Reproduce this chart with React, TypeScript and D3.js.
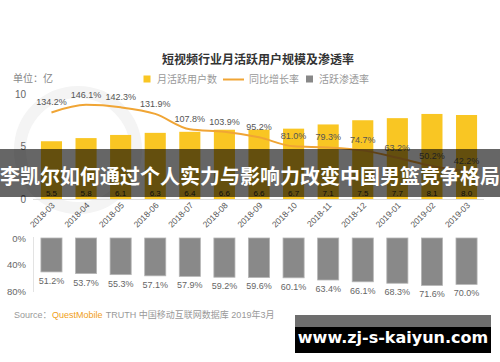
import React, { useEffect, useRef } from 'react';
import * as d3 from 'd3';

const months = ['2018-03', '2018-04', '2018-05', '2018-06', '2018-07', '2018-08', '2018-09',
  '2018-10', '2018-11', '2018-12', '2019-01', '2019-02', '2019-03'];
const mau = [5.5, 5.8, 6.1, 6.3, 6.4, 6.6, 6.6, 6.7, 7.1, 7.5, 7.7, 8.1, 8.0];
const growth = [134.2, 146.1, 142.3, 131.9, 107.8, 103.9, 95.2, 81.0, 79.3, 74.7, 63.2, 50.2, 42.2];
const penetration = [51.2, 53.7, 55.3, 57.1, 57.9, 59.2, 59.6, 60.1, 63.4, 66.1, 68.3, 71.6, 70.0];
const mauTicks = [0, 5, 10];
const penTicks = [0, 40, 80];

const FONT = '"Liberation Sans", "Noto Sans CJK SC", sans-serif';

const App = () => {
  const ref = useRef<SVGSVGElement>(null);

  useEffect(() => {
    const svg = d3.select(ref.current);
    svg.selectAll('*').remove();
    svg.style('font-family', FONT);

    svg.append('rect').attr('width', 500).attr('height', 362).attr('fill', '#fff');

    // faint watermark ring
    svg.append('circle').attr('cx', 78).attr('cy', 150).attr('r', 58)
      .attr('fill', 'none').attr('stroke', '#f4f4f4').attr('stroke-width', 12);

    const x = d3.scaleBand<string>()
      .domain(months)
      .range([34, 484])
      .paddingInner(0.39)
      .paddingOuter(0.2);
    const cx = (i: number) => (x(months[i]) as number) + x.bandwidth() / 2;

    const y = d3.scaleLinear().domain([0, 10]).range([199, 94]);
    const yLine = d3.scaleLinear().domain([0, 160]).range([198, 96]);
    const yPen = d3.scaleLinear().domain([0, 80]).range([238, 291]);

    // title + unit
    svg.append('text').attr('x', 258).attr('y', 64).attr('text-anchor', 'middle')
      .attr('font-size', 12).attr('font-weight', 'bold').attr('fill', '#333')
      .text('短视频行业月活跃用户规模及渗透率');
    svg.append('text').attr('x', 13).attr('y', 82).attr('font-size', 10).attr('fill', '#888')
      .text('单位：亿');

    // legend
    const lg = svg.append('g').attr('font-size', 10).attr('fill', '#999');
    lg.append('rect').attr('x', 143.5).attr('y', 75.5).attr('width', 7).attr('height', 7).attr('fill', '#f9c623');
    lg.append('text').attr('x', 157).attr('y', 83).text('月活跃用户数');
    lg.append('line').attr('x1', 223).attr('x2', 244).attr('y1', 79.5).attr('y2', 79.5)
      .attr('stroke', '#f0a535').attr('stroke-width', 2);
    lg.append('text').attr('x', 249).attr('y', 83).text('同比增长率');
    lg.append('rect').attr('x', 306).attr('y', 75.5).attr('width', 7).attr('height', 7).attr('fill', '#888');
    lg.append('text').attr('x', 319).attr('y', 83).text('活跃渗透率');

    // top y axis
    svg.append('g')
      .attr('transform', 'translate(26,0)')
      .call(d3.axisLeft(y).tickValues(mauTicks).tickSize(0).tickPadding(0))
      .call(g => g.select('.domain').remove())
      .call(g => g.selectAll('text').attr('font-size', 10).attr('fill', '#666').attr('font-family', FONT));

    svg.append('line').attr('x1', 33).attr('x2', 484).attr('y1', 199.5).attr('y2', 199.5)
      .attr('stroke', '#ddd');

    // MAU bars
    svg.append('g')
      .selectAll('rect')
      .data(mau)
      .join('rect')
        .attr('x', (d, i) => x(months[i]) as number)
        .attr('y', d => y(d))
        .attr('width', x.bandwidth())
        .attr('height', d => y(0) - y(d))
        .attr('fill', '#f9c623');

    svg.append('g')
      .selectAll('text')
      .data(mau)
      .join('text')
        .attr('x', (d, i) => cx(i))
        .attr('y', 196)
        .attr('text-anchor', 'middle')
        .attr('font-size', 8)
        .attr('fill', '#222')
        .text(d => d.toFixed(1));

    // growth line
    const line = d3.line<number>()
      .x((d, i) => cx(i))
      .y(d => yLine(d))
      .curve(d3.curveMonotoneX);
    svg.append('path').datum(growth).attr('d', line)
      .attr('fill', 'none').attr('stroke', '#f0a535').attr('stroke-width', 2);

    svg.append('g')
      .selectAll('text')
      .data(growth)
      .join('text')
        .attr('x', (d, i) => cx(i))
        .attr('y', d => yLine(d) - 7)
        .attr('text-anchor', 'middle')
        .attr('font-size', 9)
        .attr('fill', '#555')
        .text(d => d.toFixed(1) + '%');

    // x labels
    svg.append('g')
      .selectAll('text')
      .data(months)
      .join('text')
        .attr('transform', (d, i) => `translate(${cx(i) + 4},${206}) rotate(-45)`)
        .attr('text-anchor', 'end')
        .attr('font-size', 8.5)
        .attr('fill', '#555')
        .text(d => d);

    // penetration (bottom)
    svg.append('line').attr('x1', 33.5).attr('x2', 33.5).attr('y1', 237).attr('y2', 292)
      .attr('stroke', '#e3e3e3');
    svg.append('g')
      .attr('transform', 'translate(26,0)')
      .call(d3.axisLeft(yPen).tickValues(penTicks).tickFormat(d => d + '%').tickSize(0).tickPadding(0))
      .call(g => g.select('.domain').remove())
      .call(g => g.selectAll('text').attr('font-size', 9.5).attr('fill', '#666').attr('font-family', FONT));

    svg.append('g')
      .selectAll('rect')
      .data(penetration)
      .join('rect')
        .attr('x', (d, i) => x(months[i]) as number)
        .attr('y', yPen(0))
        .attr('width', x.bandwidth())
        .attr('height', d => yPen(d) - yPen(0))
        .attr('fill', '#898989')
        .attr('stroke', '#b5b5b5')
        .attr('stroke-width', 0.8);

    svg.append('g')
      .selectAll('text')
      .data(penetration)
      .join('text')
        .attr('x', (d, i) => cx(i))
        .attr('y', d => yPen(d) + 12)
        .attr('text-anchor', 'middle')
        .attr('font-size', 9)
        .attr('fill', '#666')
        .text(d => d.toFixed(1) + '%');

    // source
    const src = svg.append('text').attr('x', 14).attr('y', 318).attr('font-size', 9).attr('fill', '#999');
    src.append('tspan').text('Source：');
    src.append('tspan').attr('x', 52).attr('fill', '#f0a020').text('QuestMobile');
    src.append('tspan').attr('dx', 1).text(' TRUTH 中国移动互联网数据库 2019年3月');

    // banner overlay
    svg.append('rect').attr('x', 0).attr('y', 149).attr('width', 500).attr('height', 48)
      .attr('fill', 'rgba(0,0,0,0.6)');
    svg.append('text').attr('x', 250).attr('y', 184).attr('text-anchor', 'middle')
      .attr('font-size', 20).attr('font-weight', 'bold').attr('fill', '#fff')
      .attr('font-family', '"Noto Sans CJK SC", sans-serif')
      .text('李凯尔如何通过个人实力与影响力改变中国男篮竞争格局');

    // site stamp
    svg.append('rect').attr('x', 295).attr('y', 315).attr('width', 196).attr('height', 12).attr('fill', '#6e6e6e');
    svg.append('rect').attr('x', 295).attr('y', 327).attr('width', 196).attr('height', 26).attr('fill', '#000');
    svg.append('text').attr('x', 393).attr('y', 343).attr('text-anchor', 'middle')
      .attr('font-size', 16).attr('font-weight', 'bold').attr('fill', '#fff')
      .attr('font-family', '"DejaVu Sans", sans-serif')
      .text('www.zj-s-kaiyun.com');
  }, []);

  return (
    <div style={{ position: 'fixed', left: 0, top: 0 }}>
      <svg ref={ref} width="500" height="362" style={{ display: 'block' }}></svg>
    </div>
  );
};

export default App;
